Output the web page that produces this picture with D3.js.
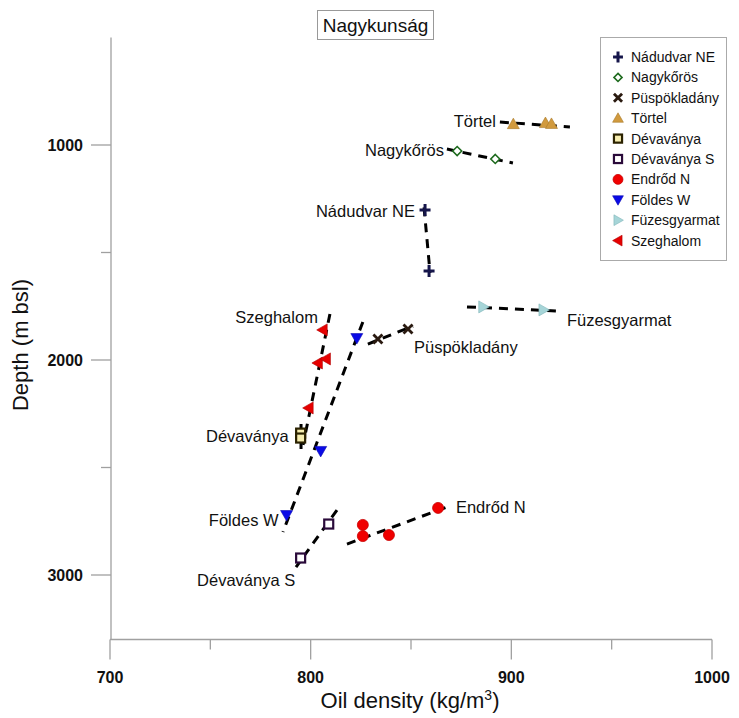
<!DOCTYPE html>
<html><head><meta charset="utf-8">
<script src="https://cdn.jsdelivr.net/npm/d3@7"></script>
<style>body{margin:0;background:#fff}svg{display:block;font-family:"Liberation Sans",Arial,sans-serif}</style>
</head><body><svg id="c" width="739" height="718"></svg>
<script>
// ---- data ----
const seriesNames = ["Nádudvar NE","Nagykőrös","Püspökladány","Törtel","Dévaványa","Dévaványa S","Endrőd N","Földes W","Füzesgyarmat","Szeghalom"];
const nadudvarNE = [[857,1302],[859,1586]];
const nagykoros = [[873,1028],[892,1065]];
const puspokladany = [[833.5,1902],[848.5,1856]];
const tortel = [[901,903],[917,898],[920,902]];
const devavanya = [[795,2340],[795,2363]];
const devavanyaS = [[809,2763],[795,2921]];
const endrodN = [[826,2767],[826,2819],[839,2814],[863.5,2688]];
const foldesW = [[823,1898],[805,2423],[788,2721]];
const fuzesgyarmat = [[886,1753],[916,1767]];
const szeghalom = [[806,1860],[803.6,2014],[807.6,1995],[799,2223]];
const seriesData = [nadudvarNE,nagykoros,puspokladany,tortel,devavanya,devavanyaS,endrodN,foldesW,fuzesgyarmat,szeghalom];
// trend line endpoints [density, depth]
const trends = [
  [[856.5,1290],[859.5,1595]],
  [[867.9,1019],[900.8,1084]],
  [[828.5,1926],[851,1842]],
  [[894.3,893],[929.2,916]],
  [[795.2,2298],[795.2,2428]],
  [[813.1,2698],[792.7,2963]],
  [[818.1,2856],[867.9,2684]],
  [[826,1823],[786.2,2800]],
  [[877.9,1753],[922.7,1772]],
  [[809.6,1786],[796.2,2395]]
];
// label anchors [density, depth, anchor]
const labels = [
  [852,1307,"end"],[866.4,1023,"end"],[851.5,1940,"start"],[892.3,888,"end"],
  [789,2353,"end"],[743.4,3023,"start"],[872.4,2684,"start"],[784,2744,"end"],
  [927.7,1814,"start"],[803.6,1800,"end"]
];
const xTicks = [700,800,900,1000];
const xMinor = [750,850,950];
const yTicks = [1000,2000,3000];
const yMinor = [1500,2500];
const titleText = "Nagykunság";

// ---- styles ----
const styles = [
  {sym:"plus", fill:"#15154a", stroke:"#15154a"},
  {sym:"diamond", fill:"#ffffff", stroke:"#1d6a1d"},
  {sym:"cross", fill:"#2a1a10", stroke:"#2a1a10"},
  {sym:"triUp", fill:"#d19a3e", stroke:"#a87828"},
  {sym:"square", fill:"#f7eeb0", stroke:"#2b2200"},
  {sym:"square", fill:"#ffffff", stroke:"#2a0a3a"},
  {sym:"circle", fill:"#f00000", stroke:"#c80000"},
  {sym:"triDown", fill:"#0a0ae6", stroke:"#0a0ab0"},
  {sym:"triRight", fill:"#a6d5d8", stroke:"#7fb5b8"},
  {sym:"triLeft", fill:"#e60000", stroke:"#b00000"}
];

const svg = d3.select("#c");
const x = d3.scaleLinear().domain([700,1000]).range([110,712]);
const y = d3.scaleLinear().domain([500,3300]).range([37.5,639.5]);
const axisColor = "#a0a0a0";

// axes
const gx = svg.append("g").attr("transform","translate(0,639.5)");
gx.append("line").attr("x1",110).attr("x2",712).attr("stroke",axisColor).attr("stroke-width",1.3);
gx.selectAll(".mj").data(xTicks).join("line").attr("x1",d=>x(d)).attr("x2",d=>x(d)).attr("y1",0).attr("y2",20).attr("stroke",axisColor).attr("stroke-width",1.3);
gx.selectAll(".mn").data(xMinor).join("line").attr("x1",d=>x(d)).attr("x2",d=>x(d)).attr("y1",0).attr("y2",10).attr("stroke",axisColor).attr("stroke-width",1.3);
gx.selectAll("text").data(xTicks).join("text").attr("x",d=>x(d)).attr("y",43).attr("text-anchor","middle")
  .attr("font-size",16).attr("font-weight","bold").attr("fill","#111").text(d=>d);

const gy = svg.append("g").attr("transform","translate(111,0)");
gy.append("line").attr("y1",37.5).attr("y2",639.5).attr("stroke",axisColor).attr("stroke-width",1.3);
gy.selectAll(".mj").data(yTicks).join("line").attr("y1",d=>y(d)).attr("y2",d=>y(d)).attr("x1",0).attr("x2",-20).attr("stroke",axisColor).attr("stroke-width",1.3);
gy.selectAll(".mn").data(yMinor).join("line").attr("y1",d=>y(d)).attr("y2",d=>y(d)).attr("x1",0).attr("x2",-10).attr("stroke",axisColor).attr("stroke-width",1.3);
gy.selectAll("text").data(yTicks).join("text").attr("x",-28).attr("y",d=>y(d)).attr("dy","0.36em").attr("text-anchor","end")
  .attr("font-size",16).attr("font-weight","bold").attr("fill","#111").text(d=>d);

// axis titles
const xt = svg.append("text").attr("x",410).attr("y",708).attr("text-anchor","middle").attr("font-size",22).attr("fill","#111");
xt.append("tspan").text("Oil density (kg/m");
xt.append("tspan").attr("font-size",14).attr("dy",-8).text("3");
xt.append("tspan").attr("dy",8).text(")");
svg.append("text").attr("transform","translate(28,345) rotate(-90)").attr("text-anchor","middle").attr("font-size",22).attr("fill","#111").text("Depth (m bsl)");

// title
svg.append("rect").attr("x",317.5).attr("y",10.5).attr("width",116).attr("height",29).attr("fill","#fff").attr("stroke","#999");
svg.append("text").attr("x",375.5).attr("y",32).attr("text-anchor","middle").attr("font-size",19).attr("fill","#111").text(titleText);

// symbol drawer
function drawSym(g, st, cx, cy, s){
  const k = s||1;
  if(st.sym==="circle"){ g.append("circle").attr("cx",cx).attr("cy",cy).attr("r",5.5*k).attr("fill",st.fill).attr("stroke",st.stroke).attr("stroke-width",0.8); return; }
  if(st.sym==="plus"){ g.append("path").attr("d",`M${cx-5.5*k},${cy}H${cx+5.5*k}M${cx},${cy-6*k}V${cy+6*k}`).attr("stroke",st.stroke).attr("stroke-width",3).attr("fill","none"); return; }
  if(st.sym==="cross"){ const a=4.5*k; g.append("path").attr("d",`M${cx-a},${cy-a}L${cx+a},${cy+a}M${cx-a},${cy+a}L${cx+a},${cy-a}`).attr("stroke",st.stroke).attr("stroke-width",2.8).attr("fill","none"); return; }
  if(st.sym==="diamond"){ const a=4.5*k; g.append("path").attr("d",`M${cx},${cy-a}L${cx+a},${cy}L${cx},${cy+a}L${cx-a},${cy}Z`).attr("stroke",st.stroke).attr("stroke-width",1.6).attr("fill",st.fill); return; }
  if(st.sym==="square"){ const a=4.5*k; g.append("rect").attr("x",cx-a).attr("y",cy-a).attr("width",2*a).attr("height",2*a).attr("stroke",st.stroke).attr("stroke-width",2.2).attr("fill",st.fill); return; }
  const a=6*k; let pts;
  if(st.sym==="triUp") pts=[[cx,cy-a],[cx+a,cy+a*0.75],[cx-a,cy+a*0.75]];
  if(st.sym==="triDown") pts=[[cx,cy+a],[cx+a,cy-a*0.75],[cx-a,cy-a*0.75]];
  if(st.sym==="triRight") pts=[[cx+a,cy],[cx-a*0.75,cy-a],[cx-a*0.75,cy+a]];
  if(st.sym==="triLeft") pts=[[cx-a,cy],[cx+a*0.75,cy-a],[cx+a*0.75,cy+a]];
  g.append("path").attr("d","M"+pts.map(p=>p.join(",")).join("L")+"Z").attr("fill",st.fill).attr("stroke",st.stroke).attr("stroke-width",0.6);
}

// trend lines
const line = d3.line().x(d=>x(d[0])).y(d=>y(d[1]));
svg.append("g").selectAll("path").data(trends).join("path").attr("d",line)
  .attr("fill","none").attr("stroke","#000").attr("stroke-width",3).attr("stroke-dasharray","9,7");

// markers
const gm = svg.append("g");
seriesData.forEach((arr,i)=>{ arr.forEach(p=>drawSym(gm, styles[i], x(p[0]), y(p[1]))); });

// labels
svg.append("g").selectAll("text").data(labels).join("text")
  .attr("x",d=>x(d[0])).attr("y",d=>y(d[1])).attr("dy","0.36em").attr("text-anchor",d=>d[2])
  .attr("font-size",16.5).attr("fill","#111").text((d,i)=>seriesNames[i]);

// legend
const lg = svg.append("g");
lg.append("rect").attr("x",600.5).attr("y",37.5).attr("width",126).attr("height",223).attr("fill","#fff").attr("stroke","#aaa");
seriesNames.forEach((n,i)=>{
  const ly = 57 + i*20.4;
  drawSym(lg, styles[i], 618, ly, 0.9);
  lg.append("text").attr("x",631).attr("y",ly).attr("dy","0.36em").attr("font-size",14).attr("fill","#111").text(n);
});
</script></body></html>
